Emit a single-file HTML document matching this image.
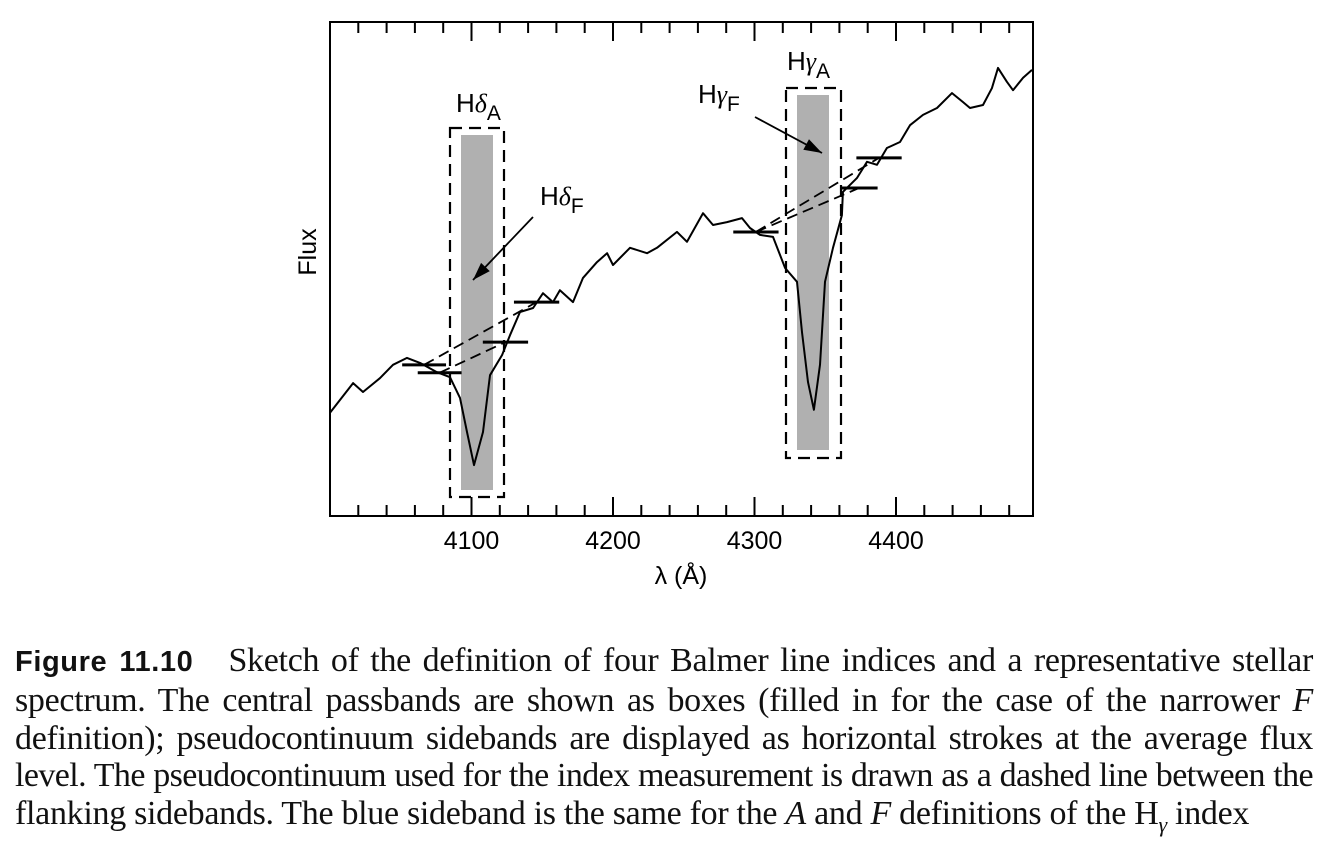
<!DOCTYPE html>
<html><head><meta charset="utf-8"><style>
body{margin:0;width:1332px;height:864px;background:#fff;overflow:hidden}
#cap{position:absolute;left:15px;top:642px;width:1298px;font-family:"Liberation Serif",serif;font-size:34px;line-height:37.8px;color:#111;letter-spacing:-0.3px}
#cap span.l{display:block;white-space:nowrap;text-align:justify;text-align-last:justify}
#cap span.last{display:block;white-space:nowrap}
#cap span.tight{letter-spacing:-0.6px}
#cap b{font-family:"Liberation Sans",sans-serif;font-weight:bold;font-size:29px;letter-spacing:0.6px}
</style></head><body>
<svg id="chart" width="1332" height="620" style="position:absolute;left:0;top:0" font-family="Liberation Sans, sans-serif"></svg>
<div id="cap"><span class="l"><b>Figure 11.10</b>&nbsp;&nbsp; Sketch of the definition of four Balmer line indices and a representative stellar</span><span class="l">spectrum. The central passbands are shown as boxes (filled in for the case of the narrower <i>F</i></span><span class="l">definition); pseudocontinuum sidebands are displayed as horizontal strokes at the average flux</span><span class="l tight">level. The pseudocontinuum used for the index measurement is drawn as a dashed line between the</span><span class="last">flanking sidebands. The blue sideband is the same for the <i>A</i> and <i>F</i> definitions of the H<sub style="font-size:22px;line-height:0"><i>γ</i></sub> index</span></div>
<script>
// data (wavelength in Å, flux in arbitrary units 0-100)
const wl=[4000,4016.3,4023.3,4035.3,4044.5,4054.4,4063.6,4075.6,4084.8,4091.9,4096.8,4101.8,4108.1,4113.1,4121.6,4127.2,4134.3,4143.5,4150.5,4157.6,4162.5,4171.7,4178.8,4188.7,4195.8,4200,4212,4224,4231.1,4245.2,4252.3,4263.6,4270.7,4280.6,4291.2,4296.8,4303.9,4313.1,4321.6,4330,4333.6,4337.8,4342,4346.3,4349.8,4355.5,4361.8,4362.5,4372.4,4379.5,4386.6,4393.6,4402.8,4409.9,4419.1,4429,4439.6,4447.3,4452.3,4461.5,4467.8,4472.1,4478.4,4482.7,4489.8,4496.1];
const flux=[20.9,26.9,25.1,27.9,30.6,32.0,31.0,29.1,28.1,23.9,17.0,10.3,17.0,28.5,32.6,36.6,41.3,42.1,45.1,43.3,45.7,43.3,48.2,51.4,53.2,50.8,54.3,53.2,54.3,57.5,55.5,61.3,58.9,59.5,60.3,58.3,56.9,56.5,50.2,47.4,37.2,27.1,21.5,30.6,47.4,54.3,60.9,65.6,68.4,71.7,71.1,74.5,75.7,79.1,81.2,82.6,85.6,83.8,82.6,83.2,86.6,90.7,87.9,86.2,88.7,90.3];
const sbWl=[[4051,4082],[4062,4093],[4108,4140],[4130,4162],[4285,4317],[4361,4387],[4372,4404]];
const sbFlux=[30.6,29,35.2,43.3,57.5,66.4,72.5];
const xTicks=[4100,4200,4300,4400];
const X=w=>330+(w-4000)*1.415, Y=f=>516-f*4.94;
const svg=document.getElementById('chart'),NS='http://www.w3.org/2000/svg';
function mk(t,a,p){const e=document.createElementNS(NS,t);for(const k in a)e.setAttribute(k,a[k]);(p||svg).appendChild(e);return e;}
let e;
e=mk('rect',{x:461,y:135,width:32,height:355,fill:'#b0b0b0'});


e=mk('rect',{x:797,y:95,width:32,height:355,fill:'#b0b0b0'});


const dash={fill:'none',stroke:'#000','stroke-width':2.2,'stroke-dasharray':'12 7'};
e=mk('rect',Object.assign({x:450,y:128,width:54,height:369},dash));


e=mk('rect',Object.assign({x:786,y:88,width:55,height:370},dash));


const pc=[[0,3],[1,2],[4,6],[4,5]];
pc.forEach(([a,b])=>{const l=mk('line',{x1:X((sbWl[a][0]+sbWl[a][1])/2),y1:Y(sbFlux[a]),x2:X((sbWl[b][0]+sbWl[b][1])/2),y2:Y(sbFlux[b]),stroke:'#000','stroke-width':1.8,'stroke-dasharray':'11 6'});

});
e=mk('path',{d:wl.map((w,i)=>(i?'L':'M')+X(w).toFixed(1)+','+Y(flux[i]).toFixed(1)).join(''),fill:'none',stroke:'#000','stroke-width':2,'stroke-linejoin':'round'});


sbWl.forEach((s,i)=>{const l=mk('line',{x1:X(s[0]),x2:X(s[1]),y1:Y(sbFlux[i]),y2:Y(sbFlux[i]),stroke:'#000','stroke-width':3});

});
e=mk('rect',{x:330,y:22,width:703,height:494,fill:'none',stroke:'#000','stroke-width':2});


for(let w=4020;w<4500;w+=20){const L=(w%100===0)?19:11;
mk('line',{x1:X(w),x2:X(w),y1:22,y2:22+L,stroke:'#000','stroke-width':2});
mk('line',{x1:X(w),x2:X(w),y1:516,y2:516-L,stroke:'#000','stroke-width':2});}
xTicks.forEach(t=>{const tx=mk('text',{x:X(t),y:549,'font-size':25,'text-anchor':'middle'});tx.textContent=t;

});
e=mk('text',{x:681,y:584,'font-size':25,'text-anchor':'middle'});e.textContent='λ (Å)';


e=mk('text',{x:316,y:252,'font-size':25,'text-anchor':'middle',transform:'rotate(-90 316 252)'});e.textContent='Flux';


function lab(x,y,g,sub,name){const t=mk('text',{x:x,y:y,'font-size':26});t.innerHTML='H<tspan font-family="Liberation Serif, serif" font-style="italic">'+g+'</tspan><tspan font-size="21" dy="8">'+sub+'</tspan>';

}
lab(456,112,'δ','A','hdelta-a-label');
lab(540,205,'δ','F','hdelta-f-label');
lab(787,70,'γ','A','hgamma-a-label');
lab(698,103,'γ','F','hgamma-f-label');
function arrow(x1,y1,x2,y2,name){const g=mk('g',{});mk('line',{x1,y1,x2,y2,stroke:'#000','stroke-width':1.8},g);
const a=Math.atan2(y2-y1,x2-x1),L=18,W=6;
const p=[[x2,y2],[x2-L*Math.cos(a)+W*Math.sin(a),y2-L*Math.sin(a)-W*Math.cos(a)],[x2-L*Math.cos(a)-W*Math.sin(a),y2-L*Math.sin(a)+W*Math.cos(a)]];
mk('polygon',{points:p.map(q=>q.join(',')).join(' '),fill:'#000'},g);

}
arrow(533,217,473,280,'hdelta-f-arrow');
arrow(755,117,822,153,'hgamma-f-arrow');
</script>
</body></html>
